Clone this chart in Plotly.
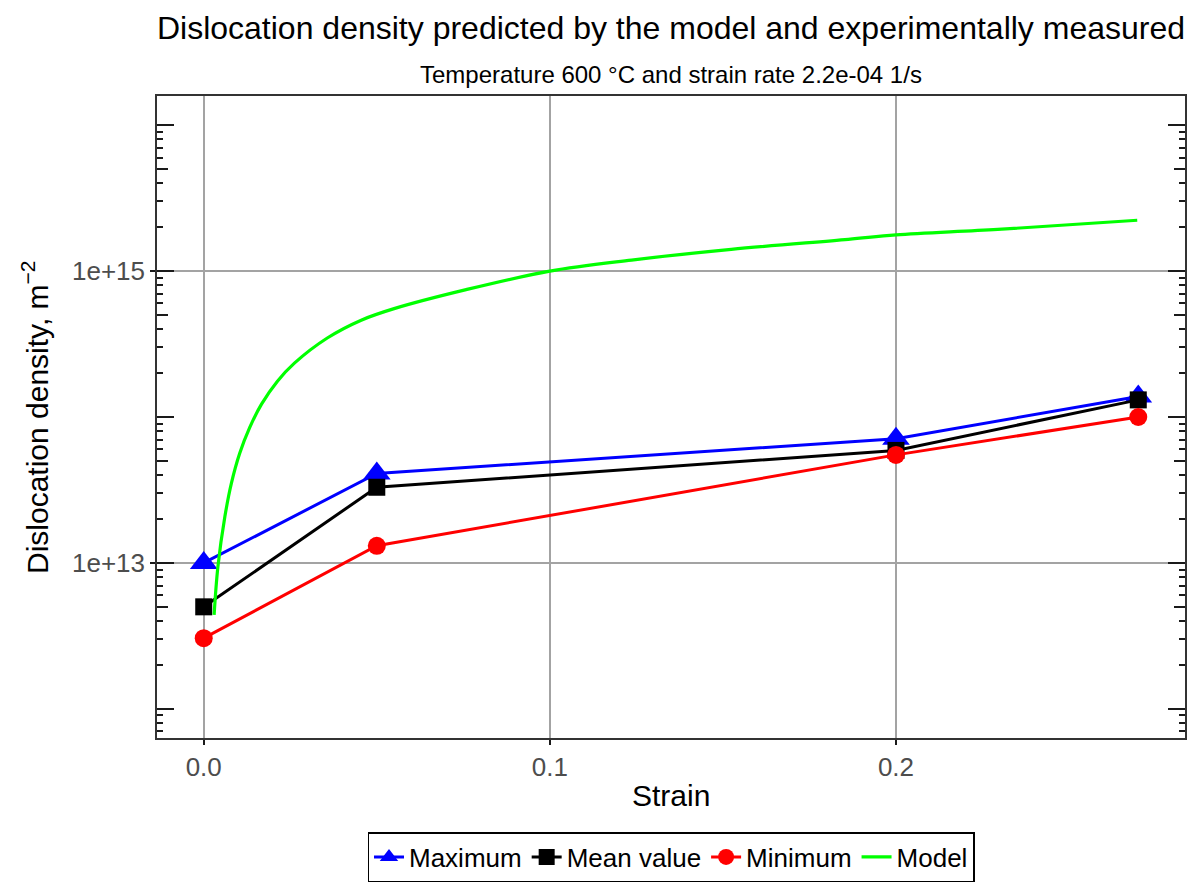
import plotly.graph_objects as go

# ---------------- data ----------------
strain_exp = [0.0, 0.05, 0.2, 0.27]
rho_max = [1.0e13, 4.1e13, 7.1e13, 1.38e14]
rho_mean = [5.0e12, 3.3e13, 5.9e13, 1.31e14]
rho_min = [3.05e12, 1.31e13, 5.5e13, 1.0e14]

strain_model = [0.0030, 0.0041, 0.0061, 0.0080, 0.0104, 0.0133, 0.0167, 0.0213,
                0.0262, 0.0357, 0.0455, 0.0550, 0.0758, 0.1000, 0.1236, 0.1524,
                0.1862, 0.2000, 0.2294, 0.2697]
rho_model = [4.41e12, 9.44e12, 2.07e13, 3.52e13, 5.64e13, 8.49e13, 1.225e14, 1.76e14,
             2.34e14, 3.48e14, 4.61e14, 5.53e14, 7.46e14, 1.00e15, 1.19e15, 1.41e15,
             1.65e15, 1.77e15, 1.93e15, 2.23e15]

x_tick_vals = [0.0, 0.1, 0.2]
x_tick_text = ["0.0", "0.1", "0.2"]
y_label_vals = [1e13, 1e15]
y_label_text = ["1e+13", "1e+15"]

title_text = "Dislocation density predicted by the model and experimentally measured"
subtitle_text = "Temperature 600 °C and strain rate 2.2e-04 1/s"
x_title = "Strain"
y_title = "Dislocation density, m<sup>−2</sup>"

# ---------------- styling ----------------
FONT = "Liberation Sans, Arial, sans-serif"
Y_RANGE = [11.8, 16.2]
X_RANGE = [-0.0135, 0.2835]
GRID = "#a3a3a3"
FRAME = "#333333"
TICKC = "#1a1a1a"

decades = [1e12, 1e13, 1e14, 1e15, 1e16]
halves = [5 * d for d in [1e12, 1e13, 1e14, 1e15]]
minors = [m * d for d in [1e11, 1e12, 1e13, 1e14, 1e15] for m in [2, 3, 4, 6, 7, 8, 9]]
minors = [v for v in minors if 10 ** Y_RANGE[0] <= v <= 10 ** Y_RANGE[1]]

fig = go.Figure()

fig.add_trace(go.Scatter(
    x=strain_exp, y=rho_max, name="Maximum", mode="lines+markers",
    line=dict(color="#0000ff", width=3),
    marker=dict(symbol="triangle-up", size=24, color="#0000ff")))
fig.add_trace(go.Scatter(
    x=strain_exp, y=rho_mean, name="Mean value", mode="lines+markers",
    line=dict(color="#000000", width=3),
    marker=dict(symbol="square", size=17, color="#000000")))
fig.add_trace(go.Scatter(
    x=strain_exp, y=rho_min, name="Minimum", mode="lines+markers",
    line=dict(color="#ff0000", width=3),
    marker=dict(symbol="circle", size=18, color="#ff0000")))
fig.add_trace(go.Scatter(
    x=strain_model, y=rho_model, name="Model", mode="lines",
    line=dict(color="#00ff00", width=3.2, shape="spline", smoothing=1.0)))

layout_axes = {}


def tick_axis(vals, length, side):
    return dict(overlaying="y", anchor="x", side=side, type="log", range=Y_RANGE,
                showgrid=False, zeroline=False, showline=False, showticklabels=False,
                ticks="inside", tickmode="array", tickvals=vals, ticklen=length,
                tickwidth=1.5, tickcolor=TICKC, fixedrange=True)


idx = 2
for side in ["left", "right"]:
    for vals, ln in [(decades, 17), (halves, 11), (minors, 6)]:
        layout_axes[f"yaxis{idx}"] = tick_axis(vals, ln, side)
        # invisible placeholder so that the tick-only axis gets drawn
        fig.add_trace(go.Scatter(x=[None], y=[None], yaxis=f"y{idx}", mode="lines",
                                 showlegend=False, hoverinfo="skip"))
        idx += 1

fig.update_layout(
    width=1196, height=888,
    paper_bgcolor="white", plot_bgcolor="white",
    margin=dict(l=157, r=11, t=96, b=150, autoexpand=False),
    font=dict(family=FONT, color="black"),
    title=dict(text=title_text, x=0.5, xref="paper", xanchor="center",
               y=1 - 28 / 888, yref="container", yanchor="middle",
               font=dict(size=32, color="black", family=FONT)),
    xaxis=dict(range=X_RANGE, tickmode="array", tickvals=x_tick_vals, ticktext=x_tick_text,
               ticks="outside", ticklen=5, tickwidth=1.5, tickcolor=TICKC,
               tickfont=dict(size=26, color="#4d4d4d", family=FONT),
               showgrid=True, gridcolor=GRID, gridwidth=1.6, zeroline=False,
               showline=True, linecolor=FRAME, linewidth=1.5, mirror=True,
               fixedrange=True),
    yaxis=dict(type="log", range=Y_RANGE, tickmode="array", tickvals=y_label_vals,
               ticktext=y_label_text, ticks="outside", ticklen=5, tickwidth=1.5,
               tickcolor=TICKC, tickfont=dict(size=26, color="#4d4d4d", family=FONT),
               showgrid=True, gridcolor=GRID, gridwidth=1.6, zeroline=False,
               showline=True, linecolor=FRAME, linewidth=1.5, mirror=True,
               fixedrange=True),
    showlegend=True,
    legend=dict(orientation="h", x=0.5, xanchor="center", y=(738 - 832) / 642,
                yanchor="top", bordercolor="black", borderwidth=1.5,
                bgcolor="white", font=dict(size=26, color="black", family=FONT),
                itemsizing="trace", itemwidth=30, traceorder="normal"),
    annotations=[
        dict(text=subtitle_text, x=0.5, xref="paper", y=(738 - 74) / 642, yref="paper",
             xanchor="center", yanchor="middle", showarrow=False,
             font=dict(size=24, color="black", family=FONT)),
        dict(text=x_title, x=0.5, xref="paper", y=(738 - 795) / 642, yref="paper",
             xanchor="center", yanchor="middle", showarrow=False,
             font=dict(size=30, color="black", family=FONT)),
        dict(text=y_title, x=(35 - 157) / (1196 - 157 - 11), xref="paper", y=0.5,
             yref="paper", xanchor="center", yanchor="middle", showarrow=False,
             textangle=-90, font=dict(size=30, color="black", family=FONT)),
    ],
    **layout_axes,
)

fig.write_html("out.html")
